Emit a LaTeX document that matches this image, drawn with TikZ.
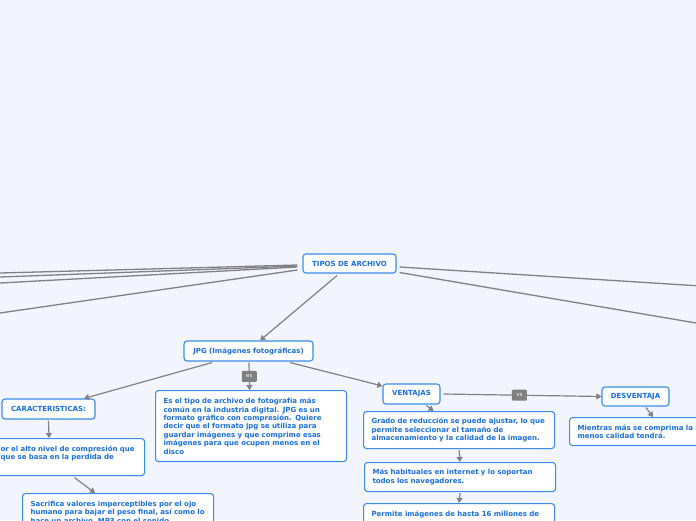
\documentclass[tikz,border=0pt]{standalone}
\usepackage{fontspec}
\setmainfont{DejaVu Sans}
\usetikzlibrary{arrows.meta,calc}
\definecolor{bgc}{RGB}{242,245,253}
\definecolor{bcol}{RGB}{58,140,232}
\definecolor{tcol}{RGB}{25,112,220}
\definecolor{lcol}{RGB}{128,128,134}
\definecolor{tagc}{RGB}{128,128,128}
\begin{document}
\begin{tikzpicture}[x=1pt,y=-1pt,
  box/.style={draw=bcol, fill=white, rounded corners=3pt, line width=1.1pt, text=tcol,
    font=\bfseries\fontsize{7}{8.4}\selectfont, inner sep=0pt},
  multi/.style={box, align=left, text width=175pt, inner xsep=8pt, inner ysep=0pt, anchor=north west},
  conn/.style={draw=lcol, line width=1.2pt, -{Triangle[length=5pt,width=6pt]}},
  plainline/.style={draw=lcol, line width=1.3pt},
  tag/.style={fill=tagc, rounded corners=1pt, text=white, font=\fontsize{5.5}{5.5}\selectfont,
    minimum width=15pt, minimum height=11pt, inner sep=0pt}]
\useasboundingbox (0,0) rectangle (696,520);
\clip (0,0) rectangle (696,520);
\fill[bgc] (0,0) rectangle (696,520);

% nodes
\node[box, minimum width=93pt, minimum height=19pt] (tipos) at (349.5,263.5) {TIPOS DE ARCHIVO};
\node[box, minimum width=129pt, minimum height=20pt] (jpg) at (248.5,351) {JPG (Imágenes fotográficas)};
\node[box, minimum width=93pt, minimum height=20pt] (car) at (48.5,409) {CARACTERISTICAS:};
\node[box, minimum width=57pt, minimum height=20pt] (vent) at (411.5,394) {VENTAJAS};
\node[box, minimum width=67pt, minimum height=19pt] (desv) at (635.5,396.5) {DESVENTAJA};

\node[multi, minimum height=71pt] (desc) at (155,390) {%
\mbox{Es el tipo de archivo de fotografía más}\\
\mbox{común en la industria digital. JPG es un}\\
\mbox{formato gráfico con compresión. Quiere}\\
\mbox{decir que el formato jpg se utiliza para}\\
\mbox{guardar imágenes y que comprime esas}\\
\mbox{imágenes para que ocupen menos en el}\\
\mbox{disco}};

\node[multi, minimum height=37pt] (caja) at (-47,438) {%
\mbox{\hspace*{39pt}or el alto nivel de compresión que}\\
\mbox{\hspace*{39pt}que se basa en la perdida de}\\
\mbox{}};

\node[multi, minimum height=37pt] (sacr) at (22,493) {%
\mbox{Sacrifica valores imperceptibles por el ojo}\\
\mbox{humano para bajar el peso final, así como lo}\\
\mbox{hace un archivo .MP3 con el sonido}};

\node[multi, minimum height=37pt] (grado) at (363,411) {%
\mbox{Grado de reducción se puede ajustar, lo que}\\
\mbox{permite seleccionar el tamaño de}\\
\mbox{almacenamiento y la calidad de la imagen.}};

\node[multi, minimum height=29pt] (mas) at (364,462) {%
\mbox{Más habituales en internet y lo soportan}\\
\mbox{todos los navegadores.}};

\node[multi, minimum height=29pt] (perm) at (363,503) {%
\mbox{Permite imágenes de hasta 16 millones de}\\
\mbox{}};

\node[multi, minimum height=28pt] (mient) at (569,417) {%
\mbox{Mientras más se comprima la imagen,}\\
\mbox{menos calidad tendrá.}};

% off-picture ends
\coordinate (l1) at (0,273);
\coordinate (l2) at (0,277);
\coordinate (l3) at (0,283);
\coordinate (l4) at (0,313);
\coordinate (r1) at (696,285.7);
\coordinate (r2) at (696,323);

\draw[plainline] ([shift={(-5,1.5)}]tipos.west) -- (l1);
\draw[plainline] ([shift={(-5,2.5)}]tipos.west) -- (l2);
\draw[plainline] ([shift={(-5,3.5)}]tipos.west) -- (l3);
\draw[plainline] ([shift={(-5,6.5)}]tipos.west) -- (l4);
\draw[plainline] ([shift={(3,3.5)}]tipos.east) -- (r1);
\draw[plainline] ([shift={(3,9)}]tipos.east) -- (r2);

% connectors
\draw[conn] ([shift={(-12.5,2)}]tipos.south) -- ([shift={(11.5,0)}]jpg.north);
\draw[conn] ([shift={(-36.5,1)}]jpg.south) -- ([shift={(35.5,0)}]car.north);
\draw[conn] ([shift={(0.5,1)}]jpg.south) -- node[tag] (es) {es} ([shift={(-1.5,0)}]desc.north);
\draw[conn] ([shift={(41.5,1)}]jpg.south) -- ([shift={(0,-8)}]vent.west);
\draw[conn] ([shift={(3,0)}]vent.east) -- node[tag, pos=0.48] (vs) {vs} (desv.west);
\draw[conn] ([shift={(15,1)}]vent.south) -- ([shift={(-25.5,0)}]grado.north);
\draw[conn] ([shift={(10.5,1)}]desv.south) -- ([shift={(84,0)}]mient.north west);
\draw[conn] ([shift={(0,1)}]grado.south) -- (mas.north);
\draw[conn] ([shift={(0,1)}]mas.south) -- (perm.north);
\draw[conn] ([shift={(0,1)}]car.south) -- (caja.north);
\draw[conn] ([shift={(25.5,1.5)}]caja.south) -- ([shift={(-23,0)}]sacr.north);
\end{tikzpicture}
\end{document}
